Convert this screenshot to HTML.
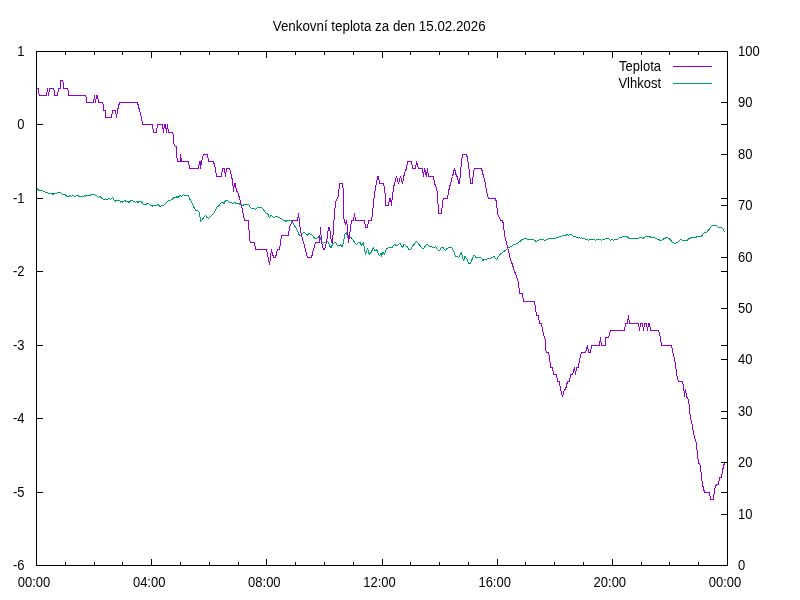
<!DOCTYPE html>
<html><head><meta charset="utf-8"><style>html,body{margin:0;padding:0;background:#fff}svg{display:block}</style></head>
<body><svg width="800" height="600" viewBox="0 0 800 600">
<rect width="800" height="600" fill="#fff"/>
<path d="M36.8,188.5 39,190.3 42.5,190.5 45,192 47.5,192.5 49,193.5 51.5,193.5 53,194.3 54.5,193.5 56.5,193.2 58,192.2 60.5,192.5 62.5,194.3 65,194.3 66.5,196.3 69.5,196.3 70.5,195 71.5,196.5 73,195.5 74.5,196.5 77.5,195.5 79.5,196.5 83.5,196.5 85,195.5 85.5,196.5 87,195.3 90,195.3 92,194.3 94,194.5 96.5,195.5 98.5,197.5 100,196.5 102.5,199 107,199.5 109,198.3 110.5,199.5 112.5,197.5 115,201.3 116.5,200.5 119.5,200.5 120.5,202.2 122,201.2 122.8,202.5 124.5,200.5 126,201.3 127.5,201.3 129,202.5 131,200.5 134,201.3 135.5,202.5 137,201.3 138,202.5 139.5,201.2 141,201.5 143.5,204.3 146,204.3 148,203.3 150.5,205.5 152.5,206.3 153,205.5 156.5,205.5 158,204.3 159.5,206.3 160.5,206.3 163,205.5 165,204.3 168.5,200.5 171,200.3 174,197.5 176,197.3 177,196.5 178,197.5 180,195.5 181.5,196.3 183.5,194.5 185,195.5 188.5,195.5 190,199.5 192.5,203.5 194,207.5 195.5,210 197.5,210.5 199.5,212.5 200.5,222 203,218.5 205.5,215.5 206.5,217 208.5,218.5 211.5,215.5 214.5,212.5 216.5,207.5 219,205.5 221.5,202.5 223,202.5 224,203.5 225.5,200.5 227.5,200.5 229.5,202.5 231.5,202.5 233,203.5 234.5,202.5 236.5,203.5 239,203.7 242,205.5 245.5,204.3 248.5,204.5 251,208.3 254.5,208.5 255.5,209.5 257.5,207.5 260,207.5 261.7,207.3 265,212 268.3,214.7 269.4,218 271,214.7 273,217.3 277.7,216.7 280.3,218 283.7,220.4 286.3,221.3 287.7,220 291.7,221 296.3,228.7 299.7,236 304.3,232 305,232.7 307,235.3 309,233.7 312.3,235.3 315,238.7 317.7,237.7 319.7,236 321,240 323,243.3 325,242.7 327.7,241.3 329.7,246 331,248 333,243.3 335.7,242.7 337.7,246 340.3,244.7 342.3,247.3 345,234 346.3,232.7 347.7,238 351,237.3 353,240 356.3,244.7 358.3,242.7 360,242.5 361.5,245.5 363.5,242.5 365.5,255 367.5,248.5 369.5,255 370.5,253.5 373.5,247.5 375,251 376.5,249.5 379.5,256 381,253.5 381.5,256.5 383,252.5 384.5,254.5 386.5,248.5 390,247 392,247.5 395,244 396.5,246 400,243.5 402.5,247.5 404,244.5 407,246.5 409,249.5 410.5,249.5 413,245.5 416.5,241.5 419,244.5 422.5,248.5 424,248 426.5,244 430,246.5 434.5,247.5 435.5,246.5 437.5,249.5 439.5,251 441.5,247.5 443.5,248 445.5,251 447,248.5 449.5,247.5 452,248 453.5,250.5 455.5,256 457.5,256.5 458.5,258 461.5,252.5 463.5,261 465,256.5 467,259 468.5,264 470.5,263.5 473.5,255.5 475,256 476.5,258 479,257 481,258 483,260.5 484.5,259 486,259.5 488,258.5 491,258 494,256.5 496.5,259.5 500,254.5 504,251.5 507.5,248.5 511,246.5 514,244.5 517.3,243.7 522,239.7 525.3,238.7 530,239.7 533.3,239.7 536,241.4 538.7,240 542,239.3 545.3,240.3 549.3,238.3 555.3,238.3 558.7,237 563.3,235.7 566.7,235 567.5,234.3 568.5,235.5 569.5,234.3 571.5,234.3 573.5,236.3 575.5,236.3 576.5,237.3 579.5,237.3 580.5,238.3 581.5,237.3 582.5,238.3 584.5,238.5 585.5,239.3 587.5,239.5 588.5,240.5 589.5,239.3 594.5,239.3 595.5,240.5 596.5,239.3 600.5,239.3 601.5,240.5 602.5,239.3 605,239.3 606,238.3 608.5,238.3 610.5,240.5 612,239.3 613.5,240.5 615,239.3 617.5,239.3 619.5,237.3 622,237.3 623,236.3 626.5,236.3 629,238.3 638.5,238.3 640,237.3 642.8,238.5 645.6,236.4 647.3,236.2 649.6,236.4 651.8,238.1 654,237.3 655.7,238.7 658,239.2 660.8,240.6 663.6,239 666.4,237.6 669.2,238.5 672.6,242.6 674.9,243.5 677.1,242.6 680.5,239.5 682.2,240.1 685,240.1 686.7,240.6 689.5,238.3 692.9,237.3 696.2,237.3 697.4,236.4 701.3,236.1 704.7,232.5 706.9,232 712,225.7 715.9,225.4 718.7,227.4 721.6,227.4 723.5,230 724.5,232" fill="none" stroke="#009e73" stroke-width="1" stroke-linejoin="bevel" shape-rendering="crispEdges"/>
<path d="M36.5,88.5 38.5,88.5 38.5,92 39.5,95.5 46.5,95.5 47.5,88.5 48.5,95.5 49.5,88.5 53.5,88.5 54.5,92 54.5,95.5 57.5,95.5 58.5,88.5 60.5,88.5 60.5,84 60.5,80.5 62.5,80.5 63.5,84 63.5,88.5 67.5,88.5 68.5,92 68.5,95.5 85.5,95.5 86.5,99 86.5,102.5 93.5,102.5 94.5,95.5 95.5,102.5 96.5,95.5 97.5,95.5 98.5,102.5 102.5,102.5 103.5,106 103.5,110.5 105.5,110.5 105.5,117.5 111.5,117.5 112.5,110.5 115.5,110.5 116.5,117.5 117.5,110.5 119.5,102.5 137.5,102.5 139.5,110.5 141.5,117.5 142.5,124.5 152.5,124.5 153.5,132.5 156.5,132.5 157.5,124.5 162.5,124.5 163.5,132.5 164.5,124.5 165.5,124.5 166.5,132.5 167.5,124.5 168.5,132.5 172.5,132.5 173.5,136 173.5,143 175.5,146.5 176.5,146.5 176.5,154.5 177.5,161.5 180.5,161.5 180.5,154.5 181.5,161.5 188.5,161.5 189.5,168.5 198.5,168.5 199.5,161.5 200.5,161.5 200.5,168.5 201.5,161.5 202.5,157.7 203.5,154.5 207.5,154.5 208.5,161.5 213.5,161.5 214.5,165.5 215.5,168.5 216.5,176.5 221.5,176.5 222.5,168.5 224.5,168.5 225.5,176.5 226.5,168.5 229.5,168.5 230.5,172 231.5,176.5 232.5,180.5 233.5,191.5 234.5,183.5 235.5,183.5 236.5,191.5 237.5,191.5 238.5,194.5 239.5,198.5 241.5,205.5 244.5,220.5 248.5,220.5 249.5,239.3 250.5,242.5 254.5,242.5 255.5,249.5 266.5,249.5 269.5,264.5 271.5,249.5 273.5,257.5 275.5,257.5 277.5,249.5 279.5,249.5 281.5,235.5 288.5,235.5 289.5,227.5 292.5,220.5 297.5,220.5 298.5,213.5 300.5,231.3 303.5,242.5 307.5,257.5 311.5,257.5 313.5,249.5 315.5,242.5 319.5,242.5 320.5,227.5 321.5,242.5 323.5,249.5 324.5,249.5 326.5,242.5 328.5,227.5 329.5,227.5 331.5,242.5 332.5,242.5 333.5,227.5 334.5,213.5 335.5,202 337.5,198.5 338.5,194.7 339.5,183.5 342.5,183.5 343.5,191.5 343.5,216.7 345.5,224.7 346.5,220.5 347.5,227.5 348.5,242.5 349.5,235.5 351.5,220.5 353.5,220.5 354.5,213.5 355.5,220.5 364.5,220.5 365.5,227.5 367.5,227.5 368.5,220.5 371.5,220.5 372.5,213.5 373.5,202 374.5,194.7 375.5,186.7 376.5,183.5 377.5,176.5 378.5,176.5 379.5,183.5 383.5,183.5 384.5,187.7 385.5,198.5 385.5,205.5 388.5,205.5 389.5,198.5 390.5,198.5 391.5,205.5 392.5,195.7 393.5,187.7 394.5,183.5 396.5,176.5 398.5,183.5 400.5,176.5 402.5,183.5 404.5,173 406.5,168.5 407.5,161.5 411.5,161.5 412.5,168.5 415.5,168.5 416.5,161.5 418.5,168.5 422.5,168.5 423.5,176.5 424.5,168.5 426.5,176.5 427.5,168.5 428.5,176.5 433.5,176.5 434.5,183.5 436.5,187.7 437.5,194.3 438.5,213.5 441.5,213.5 442.5,202.3 443.5,198.5 447.5,198.5 448.5,191.5 450.5,183.5 452.5,176.5 454.5,168.5 456.5,176.5 457.5,176.5 458.5,183.5 459.5,183.5 460.5,172.3 461.5,161.5 462.5,154.5 466.5,154.5 467.5,158.3 468.5,165.7 469.5,173 470.5,183.5 472.5,183.5 473.5,171.7 474.5,168.5 481.5,168.5 483.5,176.5 485.5,183.5 486.5,191.5 488.5,198.5 495.5,198.5 496.5,202.3 497.5,213.5 500.5,220.5 502.5,220.5 503.5,224.3 504.5,235.5 506.5,242.5 508.5,251 510.5,260.3 512.5,264.5 513.5,268.3 514.5,271.5 516.5,275.7 518.5,283 519.5,293.5 522.5,293.5 523.5,301.5 534.5,301.5 535.5,308.5 536.5,315.5 538.5,315.5 539.5,323.5 541.5,323.5 542.5,330.5 543.5,333.7 545.5,341 545.5,348.7 546.5,352.5 548.5,352.5 549.5,356.7 550.5,367.5 552.5,367.5 553.5,374.5 556.5,374.5 557.5,381.5 559.5,381.5 560.5,389.5 562.5,396.5 564.5,389.5 565.5,389.5 567.5,381.5 569.5,381.5 570.5,374.5 572.5,374.5 574.5,367.5 575.5,374.5 576.5,367.5 578.5,367.5 579.5,359.5 581.5,352.5 585.5,352.5 587.5,345.5 588.5,352.5 590.5,352.5 591.5,345.5 599.5,345.5 600.5,337.5 601.5,345.5 605.5,345.5 605.5,337.5 608.5,337.5 610.5,330.5 624.5,330.5 625.5,323.5 627.5,323.5 628.5,315.5 629.5,323.5 638.5,323.5 639.5,330.5 640.5,323.5 642.5,323.5 643.5,330.5 644.5,323.5 646.5,323.5 647.5,330.5 648.5,323.5 649.5,323.5 650.5,330.5 658.5,330.5 660.5,337.5 661.5,345.5 671.5,345.5 672.5,350.3 674.5,359.5 675.5,363.7 676.5,374.5 678.5,381.5 682.5,381.5 683.5,386 684.5,396.5 685.5,389.5 686.5,396.5 688.5,400 689.5,408.7 690.5,418.5 692.5,425.5 693.5,433.5 695.5,440.5 696.5,444 697.5,455.5 698.5,462.5 700.5,466 701.5,477.5 702.5,484.5 704.5,492.5 709.5,492.5 710.5,499.5 713.5,499.5 714.5,488.7 716.5,484.5 718.5,484.5 719.5,477.5 721.5,477.5 722.5,470.5 724.5,462.5 726.5,462.5" fill="none" stroke="#9400d3" stroke-width="1" stroke-linejoin="bevel" shape-rendering="crispEdges"/>

<rect x="36.5" y="51.5" width="691" height="514" fill="none" stroke="#000" stroke-width="1"/><path d="M36.5 565v-6M36.5 52v6M65.5 565v-3M65.5 52v3M94.5 565v-3M94.5 52v3M122.5 565v-3M122.5 52v3M151.5 565v-6M151.5 52v6M180.5 565v-3M180.5 52v3M209.5 565v-3M209.5 52v3M238.5 565v-3M238.5 52v3M266.5 565v-6M266.5 52v6M295.5 565v-3M295.5 52v3M324.5 565v-3M324.5 52v3M353.5 565v-3M353.5 52v3M382.5 565v-6M382.5 52v6M410.5 565v-3M410.5 52v3M439.5 565v-3M439.5 52v3M468.5 565v-3M468.5 52v3M497.5 565v-6M497.5 52v6M525.5 565v-3M525.5 52v3M554.5 565v-3M554.5 52v3M583.5 565v-3M583.5 52v3M612.5 565v-6M612.5 52v6M641.5 565v-3M641.5 52v3M669.5 565v-3M669.5 52v3M698.5 565v-3M698.5 52v3M727.5 565v-6M727.5 52v6M36 51.5h7M36 124.5h7M36 198.5h7M36 271.5h7M36 345.5h7M36 418.5h7M36 492.5h7M36 565.5h7M728 51.5h-7M728 102.5h-7M728 154.5h-7M728 205.5h-7M728 257.5h-7M728 308.5h-7M728 359.5h-7M728 411.5h-7M728 462.5h-7M728 514.5h-7M728 565.5h-7M728 51.5h-7M728 124.5h-7M728 198.5h-7M728 271.5h-7M728 345.5h-7M728 418.5h-7M728 492.5h-7M728 565.5h-7" stroke="#000" stroke-width="1" fill="none"/><g fill="#000" style="font-family:'Liberation Sans',sans-serif;font-size:13px;will-change:transform"><text transform="translate(24.5 56) scale(1 1.1)" text-anchor="end">1</text><text transform="translate(24.5 129) scale(1 1.1)" text-anchor="end">0</text><text transform="translate(24.5 203) scale(1 1.1)" text-anchor="end">-1</text><text transform="translate(24.5 276) scale(1 1.1)" text-anchor="end">-2</text><text transform="translate(24.5 350) scale(1 1.1)" text-anchor="end">-3</text><text transform="translate(24.5 423) scale(1 1.1)" text-anchor="end">-4</text><text transform="translate(24.5 497) scale(1 1.1)" text-anchor="end">-5</text><text transform="translate(24.5 570) scale(1 1.1)" text-anchor="end">-6</text><text transform="translate(738 56) scale(1 1.1)">100</text><text transform="translate(738 107) scale(1 1.1)">90</text><text transform="translate(738 159) scale(1 1.1)">80</text><text transform="translate(738 210) scale(1 1.1)">70</text><text transform="translate(738 262) scale(1 1.1)">60</text><text transform="translate(738 313) scale(1 1.1)">50</text><text transform="translate(738 364) scale(1 1.1)">40</text><text transform="translate(738 416) scale(1 1.1)">30</text><text transform="translate(738 467) scale(1 1.1)">20</text><text transform="translate(738 519) scale(1 1.1)">10</text><text transform="translate(738 570) scale(1 1.1)">0</text><text transform="translate(34.0 587) scale(1 1.1)" text-anchor="middle">00:00</text><text transform="translate(149.16666666666669 587) scale(1 1.1)" text-anchor="middle">04:00</text><text transform="translate(264.33333333333337 587) scale(1 1.1)" text-anchor="middle">08:00</text><text transform="translate(379.5 587) scale(1 1.1)" text-anchor="middle">12:00</text><text transform="translate(494.6666666666667 587) scale(1 1.1)" text-anchor="middle">16:00</text><text transform="translate(609.8333333333334 587) scale(1 1.1)" text-anchor="middle">20:00</text><text transform="translate(725.0 587) scale(1 1.1)" text-anchor="middle">00:00</text><text transform="translate(379.2 31.3) scale(1 1.04)" text-anchor="middle" style="font-size:13.35px">Venkovní teplota za den 15.02.2026</text><text transform="translate(661 71) scale(1 1.1)" text-anchor="end">Teplota</text><text transform="translate(661 88) scale(1 1.1)" text-anchor="end">Vlhkost</text></g><path d="M673 66.5h39" stroke="#9400d3" stroke-width="1"/><path d="M673 83.5h39" stroke="#009e73" stroke-width="1"/>
</svg></body></html>
